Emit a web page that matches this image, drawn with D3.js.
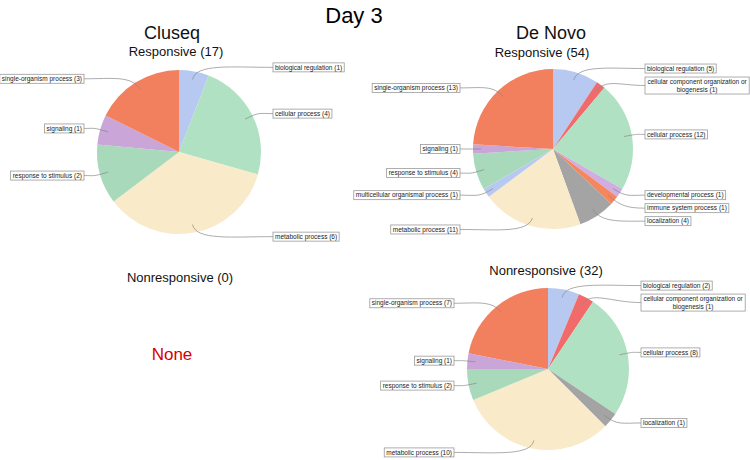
<!DOCTYPE html>
<html>
<head>
<meta charset="utf-8">
<script src="https://cdn.jsdelivr.net/npm/d3@7"></script>
<style>
  body { margin: 0; background: #fff; }
  text { font-family: "Liberation Sans", Arial, sans-serif; }
</style>
</head>
<body>
<div id="chart-area"></div>
<script>
// categories and colours (same order as slices, clockwise from 12 o'clock)
let categories = ["biological regulation", "cellular component organization or biogenesis",
    "cellular process", "developmental process", "immune system process", "localization",
    "metabolic process", "multicellular organismal process", "response to stimulus",
    "signaling", "single-organism process"];
let colors = ["#b7c9f0", "#f26b6b", "#b0e1c2", "#cfaee0", "#f5865e", "#a4a4a4",
    "#f9eac9", "#b7c9f0", "#a8d9ba", "#c9a5d8", "#f2805e"];

let cluseqResponsive = [1, 0, 4, 0, 0, 0, 6, 0, 2, 1, 3];
let deNovoResponsive = [5, 1, 12, 1, 1, 4, 11, 1, 4, 1, 13];
let deNovoNonresponsive = [2, 1, 8, 0, 0, 1, 10, 0, 2, 1, 7];

let width = 750, height = 460;

let svg = d3.select("#chart-area")
    .append("svg")
    .attr("width", width)
    .attr("height", height);

// Title
svg.append("text")
    .attr("x", 354).attr("y", 23)
    .attr("font-size", "22px")
    .attr("text-anchor", "middle")
    .text("Day 3");

function header(x, y, size, label, color) {
    svg.append("text")
        .attr("x", x).attr("y", y)
        .attr("font-size", size)
        .attr("text-anchor", "middle")
        .attr("fill", color || "#111")
        .text(label);
}

header(172, 39, "18px", "Cluseq");
header(176, 56, "13px", "Responsive (17)");
header(551, 39, "18px", "De Novo");
header(542, 57, "13px", "Responsive (54)");
header(180, 282, "13px", "Nonresponsive (0)");
header(172, 360, "17px", "None", "#d40000");
header(546, 275, "13px", "Nonresponsive (32)");

function drawPie(values, cx, cy, r) {
    let data = values.map(function (v, i) {
        return {name: categories[i], value: v, color: colors[i]};
    }).filter(function (d) { return d.value > 0; });

    let pie = d3.pie().sort(null).value(function (d) { return d.value; });
    let arcs = pie(data);
    let arc = d3.arc().innerRadius(0).outerRadius(r);
    let g = svg.append("g").attr("transform", "translate(" + cx + "," + cy + ")");

    g.selectAll("path.slice")
        .data(arcs)
        .enter()
        .append("path")
        .attr("class", "slice")
        .attr("d", arc)
        .attr("fill", function (d) { return d.data.color; });

    // labels
    let labels = arcs.map(function (d) {
        let a = (d.startAngle + d.endAngle) / 2;
        return {
            a: a,
            right: a < Math.PI,
            ax: 0.9 * r * Math.sin(a),
            ay: -0.9 * r * Math.cos(a),
            y: -1.05 * r * Math.cos(a),
            text: d.data.name + " (" + d.data.value + ")"
        };
    });

    let lg = g.append("g");
    labels.forEach(function (l) {
        let box = lg.append("g");
        l.box = box;
        let t = box.append("text")
            .attr("font-size", "6.5px")
            .attr("fill", "#222")
            .attr("text-anchor", "middle");
        // wrap long labels
        let words = l.text.split(" ");
        let lines = [], line = [];
        let probe = t.append("tspan");
        words.forEach(function (w) {
            line.push(w);
            probe.text(line.join(" "));
            if (probe.node().getComputedTextLength() > 104 && line.length > 1) {
                line.pop();
                lines.push(line.join(" "));
                line = [w];
            }
        });
        lines.push(line.join(" "));
        probe.remove();
        lines.forEach(function (s, i) {
            t.append("tspan").attr("x", 0).attr("dy", i === 0 ? 0 : 8).text(s);
        });
        l.w = t.node().getBBox().width + 4;
        l.h = lines.length * 8 + 1;
        l.t = t;
    });

    // avoid overlaps on each side
    [true, false].forEach(function (side) {
        let group = labels.filter(function (l) { return l.right === side; })
            .sort(function (a, b) { return a.y - b.y; });
        let bottom = -Infinity;
        group.forEach(function (l) {
            if (l.y - l.h / 2 < bottom + 4) l.y = bottom + 4 + l.h / 2;
            bottom = l.y + l.h / 2;
        });
    });

    labels.forEach(function (l) {
        let edge = l.right ? r + 12 : -(r + 13);
        let bx = l.right ? edge : edge - l.w;
        let top = l.y - l.h / 2;
        l.box.insert("rect", "text")
            .attr("x", bx).attr("y", top)
            .attr("width", l.w).attr("height", l.h)
            .attr("fill", "#fff")
            .attr("stroke", "#9a9a9a")
            .attr("stroke-width", 0.8);
        l.t.attr("transform", "translate(" + (bx + l.w / 2) + "," + (top + 6.7) + ")");

        let ux = Math.sin(l.a), uy = -Math.cos(l.a);
        let c1x = l.ax + ux * 0.2 * r, c1y = l.ay + uy * 0.2 * r;
        let c2x = (l.ax + edge) / 2, c2y = l.y;
        lg.insert("path", "g")
            .attr("d", "M" + l.ax + "," + l.ay + " C" + c1x + "," + c1y + " " + c2x + "," + c2y + " " + edge + "," + l.y)
            .attr("fill", "none")
            .attr("stroke", "#888")
            .attr("stroke-width", 0.7);
    });
}

drawPie(cluseqResponsive, 179, 152, 82);
drawPie(deNovoResponsive, 553, 149, 80);
drawPie(deNovoNonresponsive, 548, 369, 81);
</script>
</body>
</html>
